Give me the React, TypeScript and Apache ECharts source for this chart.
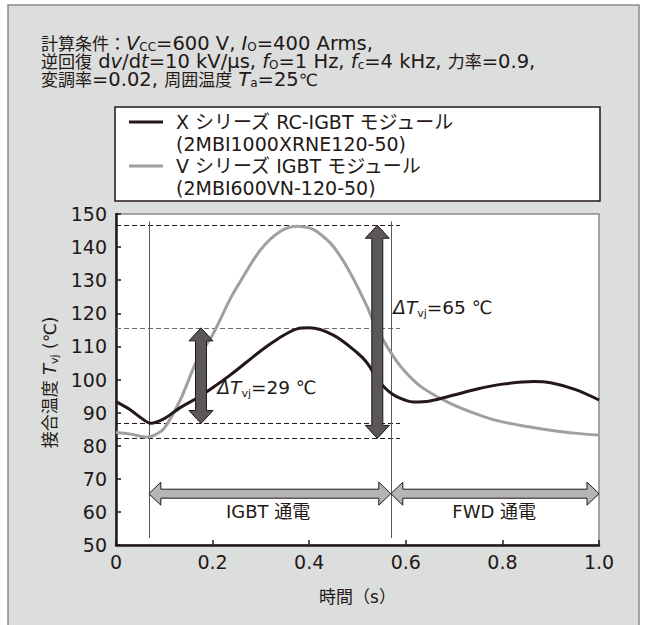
import React, { useEffect, useRef } from "react";
import * as echarts from "echarts";

// ---- data -------------------------------------------------------------
const legendNames = [
  "X シリーズ RC-IGBT モジュール\n(2MBI1000XRNE120-50)",
  "V シリーズ IGBT モジュール\n(2MBI600VN-120-50)",
];

// X series (RC-IGBT) junction temperature
const timeX = [0, 0.03, 0.05, 0.072, 0.1, 0.133, 0.168, 0.2, 0.237, 0.27, 0.3, 0.326, 0.35, 0.375, 0.4, 0.45, 0.5, 0.52, 0.535, 0.55, 0.575, 0.6, 0.616, 0.65, 0.7, 0.75, 0.8, 0.865, 0.9, 0.95, 1.0];
const tempX = [93.3, 90.8, 88.6, 86.8, 88.2, 91.5, 94.4, 97.5, 101.4, 105.2, 108.7, 111.4, 113.6, 115.3, 115.6, 113.4, 108, 105, 101.5, 98.5, 95.3, 93.7, 93.2, 93.5, 95.3, 97.2, 98.6, 99.4, 99.0, 97.0, 93.8];

// V series (IGBT) junction temperature
const timeV = [0, 0.03, 0.064, 0.08, 0.1, 0.133, 0.168, 0.2, 0.237, 0.257, 0.3, 0.34, 0.375, 0.4, 0.416, 0.45, 0.485, 0.52, 0.533, 0.561, 0.589, 0.63, 0.692, 0.761, 0.8, 0.85, 0.9, 0.95, 1.0];
const tempV = [84, 83.5, 82.6, 83.2, 85.3, 93.8, 105.9, 113.5, 124.5, 129.5, 139.3, 144.7, 146.3, 145.8, 144.7, 140.2, 132.2, 122, 117.5, 110, 104, 98, 92.8, 88.8, 87.2, 85.8, 84.7, 83.8, 83.2];

const xTickLabels = ["0", "0.2", "0.4", "0.6", "0.8", "1.0"];
const yTickLabels = ["50", "60", "70", "80", "90", "100", "110", "120", "130", "140", "150"];

// dashed guide levels (max / min of each curve)
const guideLevels = [146.6, 115.6, 86.7, 82.2];
const guideEnd = 0.588;
// vertical boundaries of IGBT / FWD conduction
const boundaryTimes = [0.068, 0.569];
const boundaryLow = 52.1;
const boundaryHigh = 147.8;

// ΔTvj double arrows
const deltaTime = [0.176, 0.541];
const deltaLow = [86.7, 82.2];
const deltaHigh = [115.6, 146.6];
const deltaTexts = ["{d|ΔT}{s|vj}=29 ℃", "{d|ΔT}{s|vj}=65 ℃"];
const deltaTextTime = [0.21, 0.574];
const deltaTextTemp = [97.5, 121.7];

// conduction period arrows
const periodStart = [0.068, 0.569];
const periodEnd = [0.569, 1.0];
const periodLevel = 65.5;
const periodTexts = ["IGBT 通電", "FWD 通電"];
const periodTextTime = [0.315, 0.783];
const periodTextTemp = 60;

const headerLines = [
  "{c|計算条件：}{i|V}{s|CC}=600 V, {i|I}{s|O}=400 Arms,",
  "{c|逆回復} d{i|v}/d{i|t}=10 kV/μs, {i|f}{s|O}=1 Hz, {i|f}{s|c}=4 kHz, {c|力率}=0.9,",
  "{c|変調率}=0.02, {c|周囲温度} {i|T}{s|a}=25{c|℃}",
];

// ---- styles -----------------------------------------------------------
const FONT = "'DejaVu Sans', 'Noto Sans CJK JP', sans-serif";
const INK = "#231815";
const GRAY_LINE = "#9fa0a0";

export default function App() {
  const ref = useRef<HTMLDivElement>(null);

  useEffect(() => {
    const chart = echarts.init(ref.current!, null, { renderer: "svg" });

    const guideColors = [INK, "#6b6b6b", INK, INK];

    const option: any = {
      animation: false,
      backgroundColor: "#ffffff",
      textStyle: { fontFamily: FONT, color: INK },
      graphic: [
        {
          type: "rect",
          z: -10,
          silent: true,
          shape: { x: 8, y: 5, width: 631, height: 660 },
          style: { fill: "#dcdddd", stroke: "#8a8a8a", lineWidth: 1.5 },
        },
        {
          type: "text",
          left: 41,
          top: 34,
          silent: true,
          style: {
            text: headerLines.join("\n"),
            fontSize: 19.5,
            lineHeight: 18,
            fontFamily: FONT,
            fill: INK,
            rich: {
              c: { fontSize: 17, lineHeight: 18, fontFamily: FONT, fill: INK },
              i: { fontStyle: "italic", fontSize: 19.5, lineHeight: 18, fontFamily: FONT, fill: INK },
              s: { fontSize: 12, lineHeight: 12, verticalAlign: "bottom", fontFamily: FONT, fill: INK },
            },
          },
        },
      ],
      legend: {
        orient: "vertical",
        left: 115,
        top: 107,
        padding: [4, 10, 2, 14],
        itemGap: 0,
        itemWidth: 34,
        itemHeight: 44,
        icon: "path://M0,9.5L34,9.5L34,12.5L0,12.5Z M0,0L0.01,0L0.01,0.01Z M0,44L0.01,44L0.01,43.99Z",
        backgroundColor: "#ffffff",
        borderColor: INK,
        borderWidth: 1.5,
        borderRadius: 0,
        selectedMode: false,
        itemStyle: { borderWidth: 0 },
        textStyle: {
          fontSize: 19,
          lineHeight: 22,
          color: INK,
          fontFamily: FONT,
          width: 414,
          padding: [0, 0, 0, 8],
        },
        data: legendNames,
      },
      grid: {
        left: 116,
        right: 52,
        top: 214,
        bottom: 80,
        show: true,
        backgroundColor: "#ffffff",
        borderColor: "#8a8a8a",
        borderWidth: 1.5,
      },
      xAxis: {
        type: "value",
        min: 0,
        max: 1,
        interval: 0.2,
        name: "時間（s）",
        nameLocation: "middle",
        nameGap: 43,
        nameTextStyle: { fontSize: 17, color: INK, fontFamily: FONT },
        axisLine: { lineStyle: { color: INK, width: 2.5 } },
        axisTick: { inside: true, length: 5, lineStyle: { color: INK, width: 1.5 } },
        axisLabel: {
          fontSize: 19,
          color: INK,
          fontFamily: FONT,
          margin: 7,
          formatter: (_v: number, i: number) => xTickLabels[i],
        },
        splitLine: { show: false },
      },
      yAxis: {
        type: "value",
        min: 50,
        max: 150,
        interval: 10,
        name: "接合温度 {i|T}{s|vj} (℃)",
        nameLocation: "middle",
        nameRotate: 90,
        nameGap: 50,
        nameTextStyle: {
          fontSize: 17,
          lineHeight: 20,
          color: INK,
          fontFamily: FONT,
          padding: [0, 6, 0, 0],
          rich: {
            i: { fontStyle: "italic", fontSize: 18, lineHeight: 20, fontFamily: FONT, color: INK },
            s: { fontSize: 11, lineHeight: 11, verticalAlign: "bottom", fontFamily: FONT, color: INK },
          },
        },
        axisLine: { show: true, lineStyle: { color: INK, width: 2.5 } },
        axisTick: { show: true, inside: true, length: 5, lineStyle: { color: INK, width: 1.5 } },
        axisLabel: {
          fontSize: 19,
          color: INK,
          fontFamily: FONT,
          margin: 9,
          formatter: (_v: number, i: number) => yTickLabels[i],
        },
        splitLine: { show: false },
      },
      series: [
        {
          type: "line",
          name: "guides",
          data: [],
          z: 1,
          silent: true,
          markLine: {
            silent: true,
            z: 1,
            symbol: ["none", "none"],
            label: { show: false },
            emphasis: { disabled: true },
            data: [
              ...guideLevels.map((v, i) => [
                { coord: [0, v], lineStyle: { color: guideColors[i], width: 1, type: [5, 3] } },
                { coord: [guideEnd, v] },
              ]),
              ...boundaryTimes.map((t) => [
                { coord: [t, boundaryLow], lineStyle: { color: "#5a5a5a", width: 1, type: "solid" } },
                { coord: [t, boundaryHigh] },
              ]),
            ],
          },
        },
        {
          type: "line",
          name: legendNames[0],
          data: timeX.map((t, i) => [t, tempX[i]]),
          smooth: 0.35,
          symbol: "none",
          z: 4,
          lineStyle: { color: INK, width: 3 },
          itemStyle: { color: INK },
        },
        {
          type: "line",
          name: legendNames[1],
          data: timeV.map((t, i) => [t, tempV[i]]),
          smooth: 0.35,
          symbol: "none",
          z: 3,
          lineStyle: { color: GRAY_LINE, width: 3 },
          itemStyle: { color: GRAY_LINE },
        },
        {
          type: "custom",
          name: "deltaArrows",
          z: 10,
          silent: true,
          data: deltaTime.map((t, i) => [t, deltaLow[i], deltaHigh[i]]),
          encode: { x: 0, y: [1, 2] },
          renderItem: (_p: any, api: any) => {
            const top = api.coord([api.value(0), api.value(2)]);
            const bot = api.coord([api.value(0), api.value(1)]);
            const x = top[0];
            const y1 = top[1];
            const y2 = bot[1];
            const sw = 5.5, hw = 12, hl = 13;
            return {
              type: "polygon",
              shape: {
                points: [
                  [x, y1], [x + hw, y1 + hl], [x + sw, y1 + hl], [x + sw, y2 - hl], [x + hw, y2 - hl],
                  [x, y2], [x - hw, y2 - hl], [x - sw, y2 - hl], [x - sw, y1 + hl], [x - hw, y1 + hl],
                ],
              },
              style: { fill: "#595757", stroke: INK, lineWidth: 1 },
            };
          },
        },
        {
          type: "custom",
          name: "periodArrows",
          z: 10,
          silent: true,
          data: periodStart.map((s, i) => [s, periodEnd[i], periodLevel]),
          encode: { x: [0, 1], y: 2 },
          renderItem: (_p: any, api: any) => {
            const p0 = api.coord([api.value(0), api.value(2)]);
            const p1 = api.coord([api.value(1), api.value(2)]);
            const y = p0[1];
            const x0 = p0[0];
            const x1 = p1[0];
            const sh = 4.5, hh = 11.5, hl = 12;
            return {
              type: "polygon",
              shape: {
                points: [
                  [x0, y], [x0 + hl, y - hh], [x0 + hl, y - sh], [x1 - hl, y - sh], [x1 - hl, y - hh],
                  [x1, y], [x1 - hl, y + hh], [x1 - hl, y + sh], [x0 + hl, y + sh], [x0 + hl, y + hh],
                ],
              },
              style: { fill: "#b5b5b6", stroke: INK, lineWidth: 1 },
            };
          },
        },
        {
          type: "custom",
          name: "deltaLabels",
          z: 11,
          silent: true,
          data: deltaTextTime.map((t, i) => [t, deltaTextTemp[i]]),
          renderItem: (p: any, api: any) => {
            const pt = api.coord([api.value(0), api.value(1)]);
            return {
              type: "text",
              x: pt[0],
              y: pt[1],
              style: {
                text: deltaTexts[p.dataIndex],
                fontSize: 18.5,
                lineHeight: 22,
                fontFamily: FONT,
                fill: INK,
                align: "left",
                verticalAlign: "middle",
                rich: {
                  d: { fontStyle: "italic", fontSize: 18.5, lineHeight: 22, fontFamily: FONT, fill: INK },
                  s: { fontSize: 11, lineHeight: 11, verticalAlign: "bottom", fontFamily: FONT, fill: INK },
                },
              },
            };
          },
        },
        {
          type: "custom",
          name: "periodLabels",
          z: 11,
          silent: true,
          data: periodTextTime.map((t) => [t, periodTextTemp]),
          renderItem: (p: any, api: any) => {
            const pt = api.coord([api.value(0), api.value(1)]);
            return {
              type: "text",
              x: pt[0],
              y: pt[1],
              style: {
                text: periodTexts[p.dataIndex],
                fontSize: 18,
                fontFamily: FONT,
                fill: INK,
                align: "center",
                verticalAlign: "middle",
              },
            };
          },
        },
      ],
    };

    chart.setOption(option);
    return () => chart.dispose();
  }, []);

  return (
    <div
      ref={ref}
      style={{ position: "fixed", left: 0, top: 0, width: 651, height: 625 }}
    />
  );
}
